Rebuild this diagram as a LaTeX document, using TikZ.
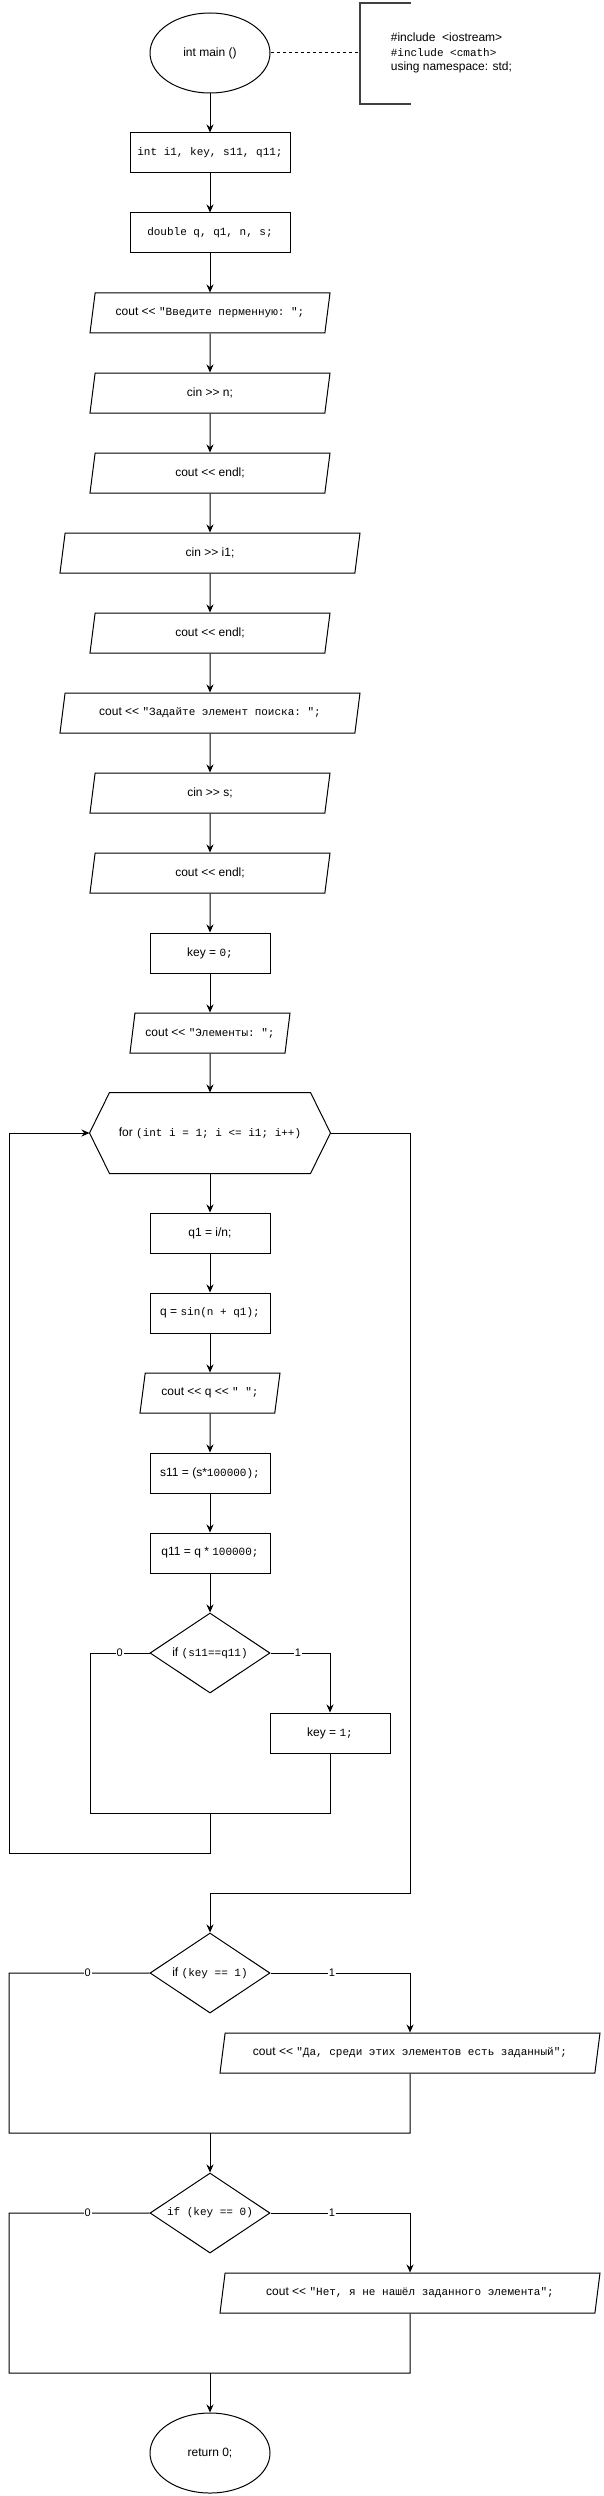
\documentclass[tikz,border=0pt]{standalone}
\usepackage{fontspec}
\setmainfont{Liberation Sans}
\setmonofont{Liberation Mono}
\usetikzlibrary{shapes.geometric,arrows.meta}
\newcommand{\mono}[1]{{\ttfamily\fontsize{11}{13}\selectfont #1}}
\tikzstyle{terminal}=[ellipse,draw,minimum width=120pt,minimum height=80pt,inner sep=0pt]
\tikzstyle{process}=[rectangle,draw,minimum width=120pt,minimum height=40pt,inner sep=0pt]
\tikzstyle{io}=[trapezium,trapezium left angle=63.43,trapezium right angle=116.57,trapezium stretches body,draw,minimum width=240pt,minimum height=40pt,inner sep=0pt]
\tikzstyle{decision}=[diamond,draw,aspect=1.5,minimum width=120pt,minimum height=80pt,inner sep=0pt]
\tikzstyle{loophead}=[rectangle,minimum width=240pt,minimum height=80pt,inner sep=0pt]
\tikzstyle{edge}=[draw,-{Stealth[length=8pt,width=7pt]}]
\tikzstyle{line}=[draw]
\tikzstyle{branch}=[fill=white,inner sep=1pt,font=\fontsize{11}{13}\selectfont]
\tikzstyle{bracket}=[draw,line width=2pt,black!75]

\begin{document}
\begin{tikzpicture}[x=1pt,y=-1pt,line width=1pt,font=\fontsize{12}{14}\selectfont]
    \useasboundingbox (0,0) rectangle (603,2496);
    % Header and comment
    \node[terminal] (main) at (210,53) {int main ()};
    \draw[bracket] (411,3) -| (360,104) -- (411,104);
    \coordinate (cmt) at (360,53);
    \node[anchor=west,align=left,font=\fontsize{12}{14.5}\selectfont] (incl) at (387,53)
        {\#include\ \ <iostream>\\ \mono{\#include <cmath>}\\ using namespace: std;};
    \draw[dashed,dash pattern=on 3pt off 3pt] (main.east) -- (cmt);

    % Main column
    \node[process,minimum width=160pt] (decl) at (210,153) {\mono{int i1, key, s11, q11;}};
    \node[process,minimum width=160pt] (dbl) at (210,233) {\mono{double q, q1, n, s;}};
    \node[io] (askn) at (210,313) {cout <{}< \mono{"Введите перменную: ";}};
    \node[io] (readn) at (210,393) {cin >{}> n;};
    \node[io] (nl1) at (210,473) {cout <{}< endl;};
    \node[io,minimum width=300pt] (readi) at (210,553) {cin >{}> i1;};
    \node[io] (nl2) at (210,633) {cout <{}< endl;};
    \node[io,minimum width=300pt] (asks) at (210,713) {cout <{}< \mono{"Задайте элемент поиска: ";}};
    \node[io] (reads) at (210,793) {cin >{}> s;};
    \node[io] (nl3) at (210,873) {cout <{}< endl;};
    \node[process] (key0) at (210,953) {key = \mono{0;}};
    \node[io,minimum width=160pt] (title) at (210,1033) {cout <{}< \mono{"Элементы: ";}};

    % Loop
    \node[loophead] (loop) at (210,1133) {for \mono{(int i = 1; i <= i1; i++)}};
    \draw (loop.west) -- ([xshift=20pt]loop.north west) -- ([xshift=-20pt]loop.north east)
        -- (loop.east) -- ([xshift=-20pt]loop.south east) -- ([xshift=20pt]loop.south west) -- cycle;
    \node[process] (qone) at (210,1233) {q1 = i/n;};
    \node[process] (qsin) at (210,1313) {q = \mono{sin(n + q1);}};
    \node[io,minimum width=140pt] (printq) at (210,1393) {cout <{}< q <{}< \mono{"\ ";}};
    \node[process] (sbig) at (210,1473) {s11 = (s*\mono{100000);}};
    \node[process] (qbig) at (210,1553) {q11 = q * \mono{100000;}};
    \node[decision] (cmp) at (210,1653) {if \mono{(s11==q11)}};
    \node[process] (keyone) at (330,1733) {key = \mono{1;}};

    % Results
    \node[decision] (chkyes) at (210,1973) {if \mono{(key == 1)}};
    \node[io,minimum width=380pt] (msgyes) at (410,2053) {cout <{}< \mono{"Да, среди этих элементов есть заданный";}};
    \node[decision] (chkno) at (210,2213) {\mono{if (key == 0)}};
    \node[io,minimum width=380pt] (msgno) at (410,2293) {cout <{}< \mono{"Нет, я не нашёл заданного элемента";}};
    \node[terminal] (ret) at (210,2453) {return 0;};

    % Straight arrows
    \foreach \source/\dest in {main/decl, decl/dbl, dbl/askn, askn/readn, readn/nl1, nl1/readi,
        readi/nl2, nl2/asks, asks/reads, reads/nl3, nl3/key0, key0/title, title/loop,
        loop/qone, qone/qsin, qsin/printq, printq/sbig, sbig/qbig, qbig/cmp}
        \path[edge] (\source) -- (\dest);

    % Loop body branches
    \coordinate (cmpleft) at (90,1813);
    \coordinate (cmpjoin) at (210,1813);
    \coordinate (back) at (9,1853);
    \path[line] (cmp.west) -| node[branch,pos=0.25] {0} (cmpleft) -- (cmpjoin);
    \path[edge] (cmp.east) -| node[branch,pos=0.23] {1} (keyone.north);
    \path[line] (keyone.south) |- (cmpjoin);
    \path[edge] (cmpjoin) |- (back) |- (loop.west);

    % Loop exit
    \coordinate (exit) at (410,1893);
    \path[edge] (loop.east) -| (exit) -| (chkyes.north);

    % First check
    \coordinate (yesleft) at (9,2133);
    \coordinate (yesright) at (410,2133);
    \coordinate (yesjoin) at (210,2133);
    \path[line] (chkyes.west) -| node[branch,pos=0.22] {0} (yesleft) -- (yesright) -- (msgyes.south);
    \path[edge] (chkyes.east) -| node[branch,pos=0.22] {1} (msgyes.north);
    \path[edge] (yesjoin) -- (chkno.north);

    % Second check
    \coordinate (noleft) at (9,2373);
    \coordinate (noright) at (410,2373);
    \coordinate (nojoin) at (210,2373);
    \path[line] (chkno.west) -| node[branch,pos=0.22] {0} (noleft) -- (noright) -- (msgno.south);
    \path[edge] (chkno.east) -| node[branch,pos=0.22] {1} (msgno.north);
    \path[edge] (nojoin) -- (ret.north);
\end{tikzpicture}
\end{document}
